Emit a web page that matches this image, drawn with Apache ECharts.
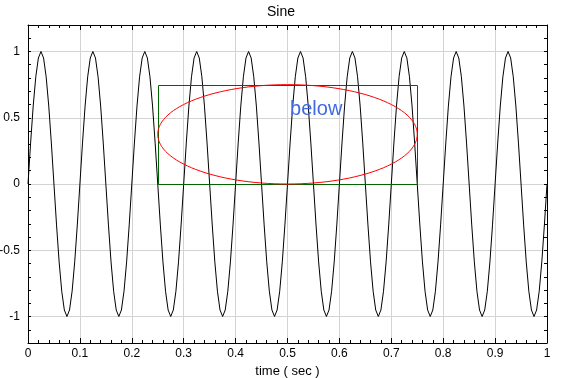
<!DOCTYPE html>
<html lang="en">
<head>
    <meta charset="UTF-8">
    <title>Sine</title>
    <script src="https://cdn.jsdelivr.net/npm/echarts@6/dist/echarts.min.js"></script>
    <style>
        body { margin: 0; background: #fff; }
        #main { width: 562px; height: 378px; }
    </style>
</head>
<body>
<div id="main"></div>
<script>
    // sampled signal, one value every dt seconds
    var dt = 0.005;
    var sineValues = [
        0, 0.309, 0.588, 0.809, 0.951, 1, 0.951, 0.809, 0.588, 0.309, 0, -0.309, -0.588, -0.809, -0.951, -1, -0.951, -0.809, -0.588, -0.309,
        0, 0.309, 0.588, 0.809, 0.951, 1, 0.951, 0.809, 0.588, 0.309, 0, -0.309, -0.588, -0.809, -0.951, -1, -0.951, -0.809, -0.588, -0.309,
        0, 0.309, 0.588, 0.809, 0.951, 1, 0.951, 0.809, 0.588, 0.309, 0, -0.309, -0.588, -0.809, -0.951, -1, -0.951, -0.809, -0.588, -0.309,
        0, 0.309, 0.588, 0.809, 0.951, 1, 0.951, 0.809, 0.588, 0.309, 0, -0.309, -0.588, -0.809, -0.951, -1, -0.951, -0.809, -0.588, -0.309,
        0, 0.309, 0.588, 0.809, 0.951, 1, 0.951, 0.809, 0.588, 0.309, 0, -0.309, -0.588, -0.809, -0.951, -1, -0.951, -0.809, -0.588, -0.309,
        0, 0.309, 0.588, 0.809, 0.951, 1, 0.951, 0.809, 0.588, 0.309, 0, -0.309, -0.588, -0.809, -0.951, -1, -0.951, -0.809, -0.588, -0.309,
        0, 0.309, 0.588, 0.809, 0.951, 1, 0.951, 0.809, 0.588, 0.309, 0, -0.309, -0.588, -0.809, -0.951, -1, -0.951, -0.809, -0.588, -0.309,
        0, 0.309, 0.588, 0.809, 0.951, 1, 0.951, 0.809, 0.588, 0.309, 0, -0.309, -0.588, -0.809, -0.951, -1, -0.951, -0.809, -0.588, -0.309,
        0, 0.309, 0.588, 0.809, 0.951, 1, 0.951, 0.809, 0.588, 0.309, 0, -0.309, -0.588, -0.809, -0.951, -1, -0.951, -0.809, -0.588, -0.309,
        0, 0.309, 0.588, 0.809, 0.951, 1, 0.951, 0.809, 0.588, 0.309, 0, -0.309, -0.588, -0.809, -0.951, -1, -0.951, -0.809, -0.588, -0.309,
        0
    ];

    var xTicks = [0, 0.1, 0.2, 0.3, 0.4, 0.5, 0.6, 0.7, 0.8, 0.9, 1];
    var yTicks = [-1, -0.5, 0, 0.5, 1];

    // annotation: box [x0, y0, x1, y1], ellipse inscribed, text label
    var boxCorners = [0.25, 0, 0.75, 0.75];
    var noteText = 'below';
    var notePos = [0.505, 0.56];

    var FONT = '"Liberation Sans", Arial, sans-serif';

    var seriesData = sineValues.map(function (v, i) {
        return [+(i * dt).toFixed(3), v];
    });

    var myChart = echarts.init(document.getElementById('main'), null, { renderer: 'canvas' });

    function fmt(v) {
        return String(+v.toFixed(1));
    }

    function isYTick(v) {
        return yTicks.some(function (t) { return Math.abs(t - v) < 1e-6; });
    }

    var axisLineBlack = { show: true, onZero: false, lineStyle: { color: '#000', width: 1 } };

    var option = {
        animation: false,
        backgroundColor: '#fff',
        textStyle: { fontFamily: FONT },
        title: {
            text: 'Sine',
            left: 'center',
            top: 0,
            textStyle: { fontSize: 14, fontWeight: 'normal', color: '#000', fontFamily: FONT }
        },
        grid: {
            left: 28, right: 15, top: 25, bottom: 35,
            containLabel: false,
            outerBoundsMode: 'none'
        },
        xAxis: [{
            type: 'value',
            min: 0, max: 1, interval: 0.1,
            name: 'time ( sec )',
            nameLocation: 'middle',
            nameGap: 20,
            nameTextStyle: { color: '#000', fontSize: 13, fontFamily: FONT },
            axisLine: axisLineBlack,
            axisTick: { inside: true, length: 5, lineStyle: { color: '#000' } },
            minorTick: { show: true, splitNumber: 5, length: 3, lineStyle: { color: '#000' } },
            axisLabel: { color: '#000', fontSize: 12, margin: 5, formatter: fmt },
            splitLine: { show: false }
        }, {
            type: 'value', position: 'top',
            min: 0, max: 1, interval: 0.1,
            axisLine: axisLineBlack,
            axisTick: { inside: true, length: 5, lineStyle: { color: '#000' } },
            minorTick: { show: true, splitNumber: 5, length: 3, lineStyle: { color: '#000' } },
            axisLabel: { show: false },
            splitLine: { show: false }
        }],
        yAxis: [{
            type: 'value',
            min: -1.2, max: 1.2, interval: 0.1,
            axisLine: axisLineBlack,
            axisTick: { show: true, inside: true, length: 3, lineStyle: { color: '#000' } },
            axisLabel: {
                color: '#000', fontSize: 12, margin: 8,
                formatter: function (v) { return isYTick(v) ? fmt(v) : ''; }
            },
            splitLine: { show: false }
        }, {
            type: 'value', position: 'right',
            min: -1.2, max: 1.2, interval: 0.1,
            axisLine: axisLineBlack,
            axisTick: { show: true, inside: true, length: 3, lineStyle: { color: '#000' } },
            axisLabel: { show: false },
            splitLine: { show: false }
        }],
        series: [{
            // grid lines
            type: 'line',
            data: [],
            z: 0,
            silent: true,
            markLine: {
                z: 0,
                silent: true,
                symbol: 'none',
                label: { show: false },
                lineStyle: { color: '#d3d3d3', type: 'solid', width: 1 },
                data: xTicks.slice(1, -1).map(function (t) { return { xAxis: t }; })
                    .concat(yTicks.map(function (t) { return { yAxis: t }; }))
            }
        }, {
            name: 'sine',
            type: 'line',
            data: seriesData,
            showSymbol: false,
            lineStyle: { color: '#000', width: 1 },
            z: 3
        }, {
            type: 'custom',
            z: 4,
            silent: true,
            data: [boxCorners.concat(notePos)],
            renderItem: function (params, api) {
                var p0 = api.coord([api.value(0), api.value(1)]);
                var p1 = api.coord([api.value(2), api.value(3)]);
                var pt = api.coord([api.value(4), api.value(5)]);
                var x = Math.min(p0[0], p1[0]), y = Math.min(p0[1], p1[1]);
                var w = Math.abs(p1[0] - p0[0]), h = Math.abs(p1[1] - p0[1]);
                // crisp 1px box edges
                var rx0 = Math.round(x) + 0.5, ry0 = Math.round(y) + 0.5;
                var rx1 = Math.round(x + w) + 0.5, ry1 = Math.round(y + h) + 0.5;
                return {
                    type: 'group',
                    children: [{
                        type: 'rect',
                        shape: { x: rx0, y: ry0, width: rx1 - rx0, height: ry1 - ry0 },
                        style: { fill: 'none', stroke: '#006400', lineWidth: 1 }
                    }, {
                        type: 'ellipse',
                        shape: { cx: x + w / 2, cy: y + h / 2, rx: w / 2, ry: h / 2 },
                        style: { fill: 'none', stroke: '#ff0000', lineWidth: 1 }
                    }, {
                        type: 'text',
                        style: {
                            x: pt[0], y: pt[1],
                            text: noteText,
                            fill: '#4169e1',
                            font: '20px ' + FONT,
                            align: 'left',
                            verticalAlign: 'middle'
                        }
                    }]
                };
            }
        }]
    };

    myChart.setOption(option);
</script>
</body>
</html>
